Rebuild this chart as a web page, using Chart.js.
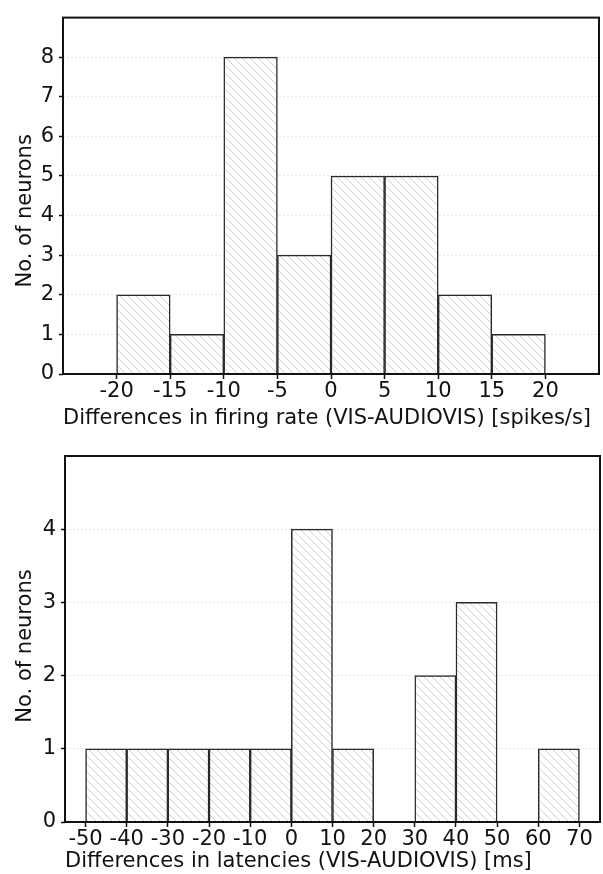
<!DOCTYPE html>
<html><head><meta charset="utf-8">
<script src="https://cdn.jsdelivr.net/npm/chart.js@4.4.1/dist/chart.umd.min.js"></script>
<style>
html,body{margin:0;padding:0;background:#fff;}
.box{position:relative;width:603px;height:437px;}
</style></head><body>
<div class="box"><canvas id="c1"></canvas></div>
<div class="box"><canvas id="c2"></canvas></div>
<script>
// ---- data ----
const rateBinCenters = [-17.5, -12.5, -7.5, -2.5, 2.5, 7.5, 12.5, 17.5];
const rateCounts     = [2, 1, 8, 3, 5, 5, 2, 1];
const rateXTicks     = [-20, -15, -10, -5, 0, 5, 10, 15, 20];
const rateYTicks     = [0, 1, 2, 3, 4, 5, 6, 7, 8];
const latBinCenters  = [-45, -35, -25, -15, -5, 5, 15, 25, 35, 45, 55, 65];
const latCounts      = [1, 1, 1, 1, 1, 4, 1, 0, 2, 3, 0, 1];
const latXTicks      = [-50, -40, -30, -20, -10, 0, 10, 20, 30, 40, 50, 60, 70];
const latYTicks      = [0, 1, 2, 3, 4];
const rateXTitle = 'Differences in firing rate (VIS-AUDIOVIS) [spikes/s]';
const latXTitle  = 'Differences in latencies (VIS-AUDIOVIS) [ms]';
const yTitle     = 'No. of neurons';

const FONT = 'DejaVu Sans';

function hatchPattern(){
  const s = 8;
  const c = document.createElement('canvas');
  c.width = s; c.height = s;
  const g = c.getContext('2d');
  g.fillStyle = '#ffffff'; g.fillRect(0,0,s,s);
  g.strokeStyle = '#cfcfcf'; g.lineWidth = 1;
  for (const a of [-s, 0, s]) {
    g.beginPath(); g.moveTo(a, 0); g.lineTo(a + s, s); g.stroke();
  }
  return g.createPattern(c, 'repeat');
}

const framePlugin = {
  id: 'frame',
  afterDraw(chart, args, opts){
    const {ctx, chartArea: a} = chart;
    ctx.save();
    ctx.strokeStyle = '#111'; ctx.lineWidth = 2;
    ctx.strokeRect(a.left, a.top, a.right - a.left, a.bottom - a.top);
    // vertical axis title
    ctx.translate(opts.titleX, (a.top + a.bottom) / 2 + opts.titleShift);
    ctx.rotate(-Math.PI / 2);
    ctx.fillStyle = '#111';
    ctx.font = '21px "' + FONT + '"';
    ctx.textAlign = 'center'; ctx.textBaseline = 'middle';
    ctx.fillText(opts.text, 0, 0);
    ctx.restore();
  }
};

function makeHist(id, centers, counts, xTicks, yTicks, cfg){
  return new Chart(document.getElementById(id), {
    type: 'bar',
    data: { datasets: [{
      data: centers.map((c, i) => ({x: c, y: counts[i]})),
      backgroundColor: hatchPattern(),
      borderColor: '#2a2a2a',
      borderWidth: 1.5,
      barPercentage: 1, categoryPercentage: 1, grouped: false
    }]},
    options: {
      responsive: true, maintainAspectRatio: false, animation: false,
      layout: { padding: { top: cfg.padTop, right: cfg.padRight, left: 0, bottom: 0 } },
      plugins: { legend: {display: false}, tooltip: {enabled: false},
                 frame: { text: yTitle, titleX: 26, titleShift: cfg.yTitleShift } },
      scales: {
        x: {
          type: 'linear', min: cfg.xmin, max: cfg.xmax, offset: false,
          afterBuildTicks: s => { s.ticks = xTicks.map(v => ({value: v})); },
          afterFit: s => { s.height = cfg.xHeight; },
          grid: { offset: false, drawOnChartArea: false, drawTicks: true, tickLength: 5, tickColor: '#111', tickWidth: 1.5 },
          border: { display: false },
          ticks: { font: {family: FONT, size: 21}, color: '#111', padding: 0, maxRotation: 0, autoSkip: false },
          title: { display: true, text: cfg.xTitle, align: 'start', color: '#111',
                   font: {family: FONT, size: 21}, padding: {top: 0, bottom: cfg.xTitlePad} }
        },
        y: {
          min: 0, max: cfg.ymax,
          afterBuildTicks: s => { s.ticks = yTicks.map(v => ({value: v})); },
          afterFit: s => { s.width = cfg.yWidth; },
          grid: { color: '#e6e6e6', lineWidth: 1, tickColor: '#111', tickLength: 4, tickWidth: 1.5, tickBorderDash: [] },
          border: { display: false, dash: [2, 2] },
          ticks: { font: {family: FONT, size: 21}, color: '#111', padding: 5 },
          title: { display: false }
        }
      }
    },
    plugins: [framePlugin]
  });
}

makeHist('c1', rateBinCenters, rateCounts, rateXTicks, rateYTicks, {
  xmin: -25, xmax: 25, ymax: 9, xTitle: rateXTitle,
  padTop: 9, padRight: 4, yWidth: 63, xHeight: 63, xTitlePad: 6, yTitleShift: 15
});
makeHist('c2', latBinCenters, latCounts, latXTicks, latYTicks, {
  xmin: -55, xmax: 75, ymax: 5, xTitle: latXTitle,
  padTop: 19, padRight: 3, yWidth: 65, xHeight: 52, xTitlePad: 0, yTitleShift: 7
});
</script>
</body></html>
